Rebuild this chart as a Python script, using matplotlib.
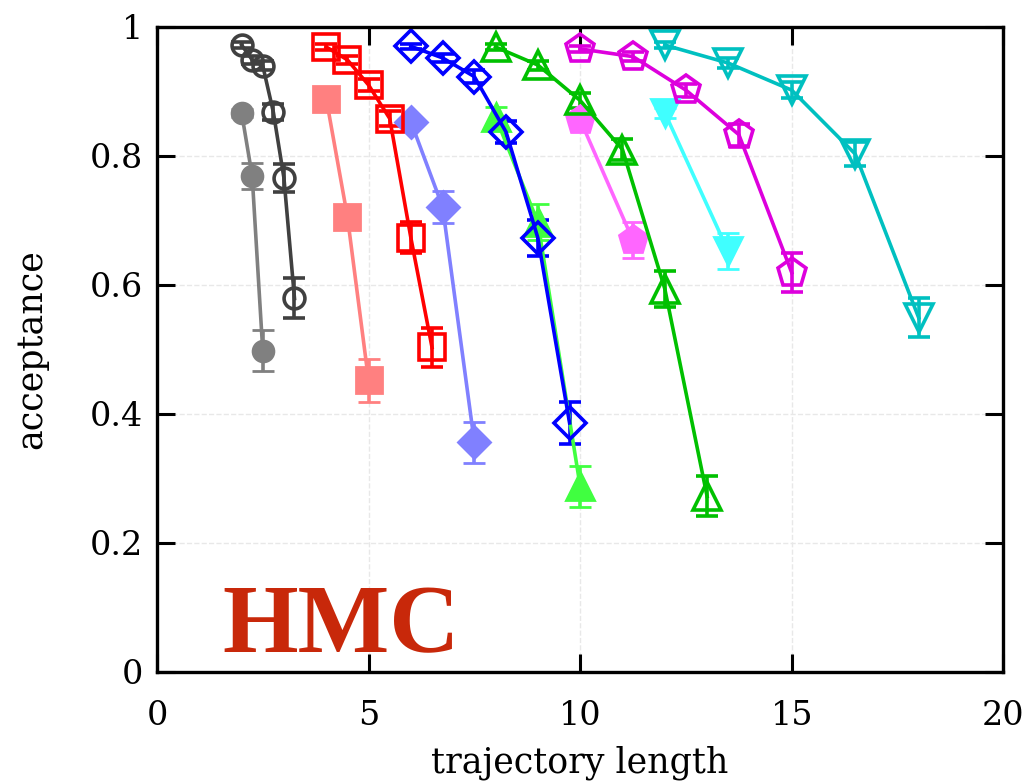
import matplotlib.pyplot as plt

# filled symbols
x_gray = [2.0, 2.25, 2.5]
y_gray = [0.867, 0.769, 0.498]
e_gray = [0.006, 0.020, 0.032]

x_salmon = [4.0, 4.5, 5.0]
y_salmon = [0.889, 0.706, 0.452]
e_salmon = [0.006, 0.012, 0.033]

x_lblue = [6.0, 6.75, 7.5]
y_lblue = [0.853, 0.721, 0.356]
e_lblue = [0.006, 0.025, 0.032]

x_lgreen = [8.0, 9.0, 10.0]
y_lgreen = [0.861, 0.697, 0.288]
e_lgreen = [0.015, 0.028, 0.032]

x_pink = [10.0, 11.25]
y_pink = [0.856, 0.669]
e_pink = [0.008, 0.028]

x_cyan = [12.0, 13.5]
y_cyan = [0.867, 0.652]
e_cyan = [0.008, 0.028]

# open symbols
x_dgray = [2.0, 2.25, 2.5, 2.75, 3.0, 3.25]
y_dgray = [0.972, 0.949, 0.940, 0.868, 0.766, 0.579]
e_dgray = [0.005, 0.006, 0.007, 0.012, 0.022, 0.031]

x_red = [4.0, 4.5, 5.0, 5.5, 6.0, 6.5]
y_red = [0.969, 0.949, 0.910, 0.858, 0.673, 0.503]
e_red = [0.004, 0.006, 0.010, 0.012, 0.024, 0.031]

x_blue = [6.0, 6.75, 7.5, 8.25, 9.0, 9.75]
y_blue = [0.970, 0.952, 0.923, 0.837, 0.673, 0.386]
e_blue = [0.004, 0.006, 0.010, 0.017, 0.028, 0.033]

x_green = [8.0, 9.0, 10.0, 11.0, 12.0, 13.0]
y_green = [0.969, 0.941, 0.886, 0.810, 0.594, 0.272]
e_green = [0.005, 0.007, 0.012, 0.017, 0.028, 0.031]

x_mag = [10.0, 11.25, 12.5, 13.75, 15.0]
y_mag = [0.966, 0.954, 0.902, 0.833, 0.619]
e_mag = [0.005, 0.007, 0.010, 0.017, 0.030]

x_teal = [12.0, 13.5, 15.0, 16.5, 18.0]
y_teal = [0.972, 0.944, 0.902, 0.803, 0.549]
e_teal = [0.005, 0.008, 0.012, 0.018, 0.030]

plt.rcParams['font.family'] = ['DejaVu Serif']

fig = plt.figure(figsize=(10.36, 7.84), dpi=100)
ax = fig.add_axes([0.1515, 0.143, 0.817, 0.8226])

filled = [
    (x_gray, y_gray, e_gray, '#808080', 'o', 15),
    (x_salmon, y_salmon, e_salmon, '#ff8080', 's', 19),
    (x_lblue, y_lblue, e_lblue, '#8080ff', 'D', 16),
    (x_lgreen, y_lgreen, e_lgreen, '#40ff40', '^', 20),
    (x_pink, y_pink, e_pink, '#ff66ff', 'p', 21),
    (x_cyan, y_cyan, e_cyan, '#40ffff', 'v', 20),
]
opened = [
    (x_dgray, y_dgray, e_dgray, '#404040', 'o', 15),
    (x_red, y_red, e_red, '#ff0000', 's', 19),
    (x_blue, y_blue, e_blue, '#0000ff', 'D', 16),
    (x_green, y_green, e_green, '#00c000', '^', 20),
    (x_mag, y_mag, e_mag, '#dd00dd', 'p', 21),
    (x_teal, y_teal, e_teal, '#00c0c0', 'v', 20),
]

for xs, ys, es, c, m, ms in filled:
    ax.errorbar(xs, ys, yerr=es, color=c, marker=m, markersize=ms,
                markerfacecolor=c, markeredgecolor=c, markeredgewidth=2,
                lw=2.6, elinewidth=2.6, capsize=8, capthick=2.6)

for xs, ys, es, c, m, ms in opened:
    ax.errorbar(xs, ys, yerr=es, color=c, marker=m, markersize=ms,
                markerfacecolor='none', markeredgecolor=c, markeredgewidth=2.6,
                lw=2.6, elinewidth=2.6, capsize=8, capthick=2.6)

ax.set_xlim(0, 20)
ax.set_ylim(0, 1)
ax.set_xticks([0, 5, 10, 15, 20])
ax.set_yticks([0, 0.2, 0.4, 0.6, 0.8, 1.0])
ax.set_yticklabels(['0', '0.2', '0.4', '0.6', '0.8', '1'])
ax.grid(True, color='#e8e8e8', linestyle='--', linewidth=1)
ax.tick_params(direction='in', length=13, width=2.2, top=True, right=True,
               labelsize=24, pad=10)
ax.tick_params(axis='x', pad=20)
for s in ax.spines.values():
    s.set_linewidth(2.4)

ax.set_xlabel('trajectory length', fontsize=25, labelpad=10)
ax.set_ylabel('acceptance', fontsize=25, labelpad=30)

ax.text(1.55, 0.03, 'HMC', family='Liberation Serif', fontweight='bold',
        fontsize=70, color='#c8280a')

fig.savefig('out.png', dpi=100)
